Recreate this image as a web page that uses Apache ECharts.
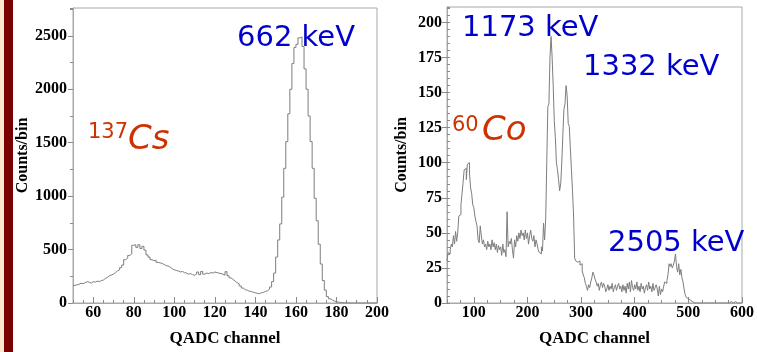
<!DOCTYPE html>
<html><head><meta charset="utf-8">
<script src="https://cdn.jsdelivr.net/npm/echarts@6/dist/echarts.min.js"></script>
<style>html,body{margin:0;padding:0;background:#fff}#c{width:757px;height:352px}</style>
</head><body><div id="c"></div>
<script>
// ---- 137Cs spectrum: 1-channel bins starting at channel 50 ----
const csBinStart = 50;
const csBinWidth = 1;
const csCounts = [
  165,170,175,185,180,190,200,195,185,200,
  195,205,200,210,215,230,240,255,262,270,
  285,300,310,330,355,405,420,445,460,540,
  545,520,545,510,530,495,450,430,405,395,
  400,380,375,370,360,350,345,335,320,310,
  305,300,290,295,285,280,270,275,265,260,
  270,290,265,295,270,280,275,285,280,290,
  285,280,275,270,260,293,255,235,220,205,
  190,180,160,140,125,120,110,108,100,95,
  90,88,95,100,108,115,130,150,200,280,
  430,590,740,990,1260,1510,1770,2000,2240,2390,
  2420,2480,2490,2400,2190,2000,1750,1510,1260,980,
  770,550,365,210,120,60,40,28,18,12,
  8,5,3,2,1,1,0,0,0,0,
  0,0,0,0,0,0,0,0,0,0
];
// ---- 60Co spectrum: 2-channel bins starting at channel 50 ----
const coBinStart = 50;
const coBinWidth = 2;
const coCounts = [
  30,36,35,38,42,  40,48,42,51,44,  50,62,63,70,78,  86,95,96,88,99,
  100,92,82,78,70, 68,62,58,55,45,  43,55,48,42,45,  40,42,38,44,40,
  42,38,45,40,43,  38,42,36,41,38,  40,34,42,36,38,  33,65,40,44,42,
  46,38,32,45,40,  48,44,50,46,52,  48,50,45,52,46,  50,42,48,52,46,
  44,48,40,45,42,  38,36,35,40,37,  57,45,60,100,140, 142,175,190,175,155,
  130,118,100,95,88, 80,85,100,120,138, 142,155,148,128,126, 110,95,80,62,32,
  30,29,28,30,27,  28,23,20,18,14,  12,9,13,11,15,  18,22,20,17,15,
  12,14,9,13,15,   11,14,12,8,10,   13,9,12,10,14,  8,11,13,9,12,
  14,10,12,8,13,   9,12,7,14,10,    15,8,16,11,9,   13,10,15,9,12,
  8,14,10,12,7,    11,13,9,15,10,   12,8,14,9,11,   13,10,5,12,6,
  10,8,12,15,14,   16,20,28,26,28,  25,27,30,35,26, 22,28,20,24,18,
  15,10,6,4,3,     2,2,1,1,0,       0,1,0,0,0,      0,0,1,0,0,
  0,1,0,1,0,       1,0,0,0,1,       0,0,0,0,0,      0,0,1,0,0,
  0,0,0,0,1,       0,0,0,1,0,       0,0,0,0,0
];
// ---- tick labels ----
const csXTickLabels = [60,80,100,120,140,160,180,200];
const csYTickLabels = [0,500,1000,1500,2000,2500];
const coXTickLabels = [100,200,300,400,500,600];
const coYTickLabels = [0,25,50,75,100,125,150,175,200];
const xTitle = 'QADC channel';
const yTitle = 'Counts/bin';

function stepData(start, w, vals) {
  const d = vals.map((v, i) => [start + i * w, v]);
  d.push([start + vals.length * w, vals[vals.length - 1]]);
  return d;
}

const FRAME = '#a8a8a8';
const TICK = '#8a8a8a';
const labelFont = {fontFamily: 'Liberation Serif', fontWeight: 'bold', fontSize: 16, color: '#000', formatter: v => String(v)};

function majorX(grid, min, max, labels) {
  return {type: 'value', gridIndex: grid, position: 'bottom', min, max,
    axisLine: {show: true, onZero: false, lineStyle: {color: FRAME, width: 1}},
    axisTick: {show: true, inside: true, length: 6, customValues: labels, lineStyle: {color: TICK}},
    axisLabel: Object.assign({customValues: labels, margin: 2}, labelFont),
    splitLine: {show: false},
    name: xTitle, nameLocation: 'middle', nameGap: 27,
    nameTextStyle: {fontFamily: 'Liberation Serif', fontWeight: 'bold', fontSize: 17, color: '#000'}
  };
}
function minorX(grid, min, max, interval) {
  return {type: 'value', gridIndex: grid, position: 'bottom', min, max, interval,
    axisLine: {show: false, onZero: false},
    axisTick: {show: true, inside: true, length: 3, lineStyle: {color: TICK}},
    axisLabel: {show: false}, splitLine: {show: false}};
}
function majorY(grid, min, max, labels, gap, margin) {
  return {type: 'value', gridIndex: grid, position: 'left', min, max,
    axisLine: {show: true, onZero: false, lineStyle: {color: FRAME, width: 1}},
    axisTick: {show: true, inside: false, length: 5, customValues: labels, lineStyle: {color: TICK}},
    axisLabel: Object.assign({customValues: labels, margin: margin}, labelFont),
    splitLine: {show: false},
    name: yTitle, nameLocation: 'middle', nameGap: gap, nameRotate: 90,
    nameTextStyle: {fontFamily: 'Liberation Serif', fontWeight: 'bold', fontSize: 16, color: '#000'}
  };
}
function minorY(grid, min, max, interval, inside) {
  return {type: 'value', gridIndex: grid, position: 'left', min, max, interval,
    axisLine: {show: false, onZero: false},
    axisTick: {show: true, inside: inside, length: 3, lineStyle: {color: TICK}},
    axisLabel: {show: false}, splitLine: {show: false}};
}

const chart = echarts.init(document.getElementById('c'), null, {renderer: 'canvas'});
const blue = '#0000cc', red = '#cc3300';
function txt(x, y, s, size, color, italic) {
  return {type: 'text', z: 100, style: {x, y, text: s, fill: color,
    font: (italic ? 'italic ' : '') + size + 'px "DejaVu Sans"', textAlign: 'left', textVerticalAlign: 'middle'}};
}
chart.setOption({
  animation: false,
  backgroundColor: '#fff',
  grid: [
    {left: 73, top: 8, width: 304, height: 298, show: true, borderColor: FRAME, borderWidth: 1, backgroundColor: 'transparent'},
    {left: 447, top: 7, width: 305, height: 299, show: true, borderColor: FRAME, borderWidth: 1, backgroundColor: 'transparent'}
  ],
  xAxis: [
    majorX(0, 50, 200, csXTickLabels),
    minorX(0, 50, 200, 5),
    majorX(1, 50, 600, coXTickLabels),
    minorX(1, 50, 600, 25)
  ],
  yAxis: [
    majorY(0, 0, 2760, csYTickLabels, 37, 6),
    minorY(0, 0, 2760, 250, false),
    majorY(1, 0, 211, coYTickLabels, 37, 5),
    minorY(1, 0, 211, 5, true)
  ],
  series: [
    {type: 'line', xAxisIndex: 0, yAxisIndex: 0, data: stepData(csBinStart, csBinWidth, csCounts),
      step: 'end', symbol: 'none', lineStyle: {color: '#7d7d7d', width: 1}, clip: true},
    {type: 'line', xAxisIndex: 2, yAxisIndex: 2, data: stepData(coBinStart, coBinWidth, coCounts),
      step: 'end', symbol: 'none', lineStyle: {color: '#7d7d7d', width: 1}, clip: true}
  ],
  graphic: [
    {type: 'rect', shape: {x: 0, y: 0, width: 4, height: 352}, style: {fill: '#fde6cc'}},
    {type: 'rect', shape: {x: 4, y: 0, width: 9, height: 352}, style: {fill: '#7a0000'}},
    txt(237, 38.5, '662 keV', 29, blue),
    txt(88, 132.5, '137', 21, red),
    txt(128, 140, 'Cs', 34, red, true),
    txt(462, 28, '1173 keV', 29, blue),
    txt(583, 67, '1332 keV', 29, blue),
    txt(608, 243.5, '2505 keV', 29, blue),
    txt(452, 126, '60', 21, red),
    txt(482, 131, 'Co', 34, red, true)
  ]
});
</script></body></html>
